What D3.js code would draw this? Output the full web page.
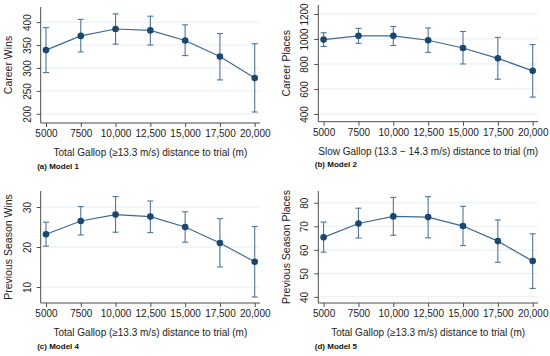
<!DOCTYPE html>
<html>
<head>
<meta charset="utf-8">
<script src="https://cdn.jsdelivr.net/npm/d3@7"></script>
<style>
  body { margin: 0; background: #fff; }
  svg { display: block; font-family: "Liberation Sans", Arial, sans-serif; }
</style>
</head>
<body>
<div class="canvas"></div>
<script>
// shared x categories (distance to trial, m)
const distances = [5000, 7500, 10000, 12500, 15000, 17500, 20000]
const xTickLabels = ["5000", "7500", "10,000", "12,500", "15,000", "17,500", "20,000"]

// (a) Model 1 - Career Wins
const winsEst = [339, 370, 385, 382, 360, 325, 278]
const winsLo = [290, 335, 352, 350, 327, 274, 204]
const winsHi = [388, 406, 418, 413, 394, 375, 353]
const winsTicks = [200, 250, 300, 350, 400]

// (b) Model 2 - Career Places
const placesEst = [995, 1025, 1025, 990, 928, 845, 745]
const placesLo = [940, 965, 948, 893, 800, 678, 535]
const placesHi = [1050, 1085, 1100, 1088, 1060, 1013, 955]
const placesTicks = [400, 600, 800, 1000, 1200]

// (c) Model 4 - Previous Season Wins
const seasonWinsEst = [23.2, 26.5, 28.1, 27.6, 25.0, 21.0, 16.3]
const seasonWinsLo = [20.2, 23.0, 23.7, 23.6, 21.2, 15.0, 7.5]
const seasonWinsHi = [26.2, 30.1, 32.6, 31.5, 28.8, 27.1, 25.1]
const seasonWinsTicks = [10, 20, 30]

// (d) Model 5 - Previous Season Places
const seasonPlacesEst = [65.3, 71.2, 74.2, 73.9, 70.1, 63.7, 55.2]
const seasonPlacesLo = [59.0, 65.0, 66.2, 65.1, 61.8, 54.7, 43.6]
const seasonPlacesHi = [71.8, 77.7, 82.3, 82.6, 78.5, 72.7, 66.8]
const seasonPlacesTicks = [40, 50, 60, 70, 80]

const panels = [
  { est: winsEst, lo: winsLo, hi: winsHi, ticks: winsTicks, domain: [180, 433],
    yTitle: "Career Wins", xTitle: "Total Gallop (\u226513.3 m/s) distance to trial (m)",
    caption: "(a) Model 1", left: 40.7, right: 260, top: 7, bottom: 123, ox: 0, oy: 0 },
  { est: placesEst, lo: placesLo, hi: placesHi, ticks: placesTicks, domain: [338, 1272],
    yTitle: "Career Places", xTitle: "Slow Gallop (13.3 \u2212 14.3 m/s) distance to trial (m)",
    caption: "(b) Model 2", left: 43.3, right: 263, top: 5, bottom: 121.7, ox: 275, oy: 0 },
  { est: seasonWinsEst, lo: seasonWinsLo, hi: seasonWinsHi, ticks: seasonWinsTicks, domain: [6, 34],
    yTitle: "Previous Season Wins", xTitle: "Total Gallop (\u226513.3 m/s) distance to trial (m)",
    caption: "(c) Model 4", left: 40.7, right: 260, top: 13, bottom: 125, ox: 0, oy: 178 },
  { est: seasonPlacesEst, lo: seasonPlacesLo, hi: seasonPlacesHi, ticks: seasonPlacesTicks, domain: [37.4, 85],
    yTitle: "Previous Season Places", xTitle: "Total Gallop (\u226513.3 m/s) distance to trial (m)",
    caption: "(d) Model 5", left: 43.3, right: 263, top: 13, bottom: 125, ox: 275, oy: 178 }
]

const svg = d3.select(".canvas").append("svg").attr("width", 550).attr("height", 356)

const lineCol = "#3d6a93"
const dotCol = "#1a476f"
const axisCol = "#4d4d4d"

panels.forEach(p => {
  const g = svg.append("g").attr("transform", `translate(${p.ox},${p.oy})`)
  const x = d3.scaleLinear().domain([4620, 20380]).range([p.left, p.right])
  const y = d3.scaleLinear().domain(p.domain).range([p.bottom, p.top])

  // gridlines
  g.selectAll(".grid").data(p.ticks).enter().append("line")
    .attr("x1", p.left).attr("x2", p.right)
    .attr("y1", d => y(d)).attr("y2", d => y(d))
    .attr("stroke", "#e6eef3").attr("stroke-width", 1)

  // y axis
  const yAxis = g.append("g").attr("transform", `translate(${p.left},0)`)
    .call(d3.axisLeft(y).tickValues(p.ticks).tickSize(4).tickPadding(3).tickFormat(d3.format("d")))
  yAxis.select(".domain").attr("stroke", axisCol).attr("d", `M0,${p.top}V${p.bottom}`)
  yAxis.selectAll(".tick line").attr("stroke", axisCol)
  yAxis.selectAll(".tick text")
    .attr("font-size", 10).attr("fill", "#222")
    .attr("transform", "rotate(-90)")
    .attr("x", 0).attr("y", -10).attr("dy", 0)
    .attr("text-anchor", "middle")

  // x axis
  const xAxis = g.append("g").attr("transform", `translate(0,${p.bottom})`)
    .call(d3.axisBottom(x).tickValues(distances).tickSize(4).tickPadding(3)
      .tickFormat((d, i) => xTickLabels[i]))
  xAxis.select(".domain").attr("stroke", axisCol).attr("d", `M${p.left},0H${p.right}`)
  xAxis.selectAll(".tick line").attr("stroke", axisCol)
  xAxis.selectAll(".tick text").attr("font-size", 10).attr("fill", "#222")

  // axis titles
  g.append("text")
    .attr("transform", `translate(${p.left - 32},${(p.top + p.bottom) / 2}) rotate(-90)`)
    .attr("text-anchor", "middle").attr("dy", "0.35em")
    .attr("font-size", 10.5).attr("fill", "#222").text(p.yTitle)
  g.append("text")
    .attr("x", (p.left + p.right) / 2).attr("y", p.bottom + 33)
    .attr("text-anchor", "middle")
    .attr("font-size", 10).attr("fill", "#222").text(p.xTitle)
  g.append("text")
    .attr("x", p.left - 3.5).attr("y", p.bottom + 45.5)
    .attr("font-size", 8).attr("font-weight", "bold").attr("fill", "#111").text(p.caption)

  // error bars
  const bars = g.append("g").attr("stroke", "#4f7599").attr("stroke-width", 1.1)
  distances.forEach((d, i) => {
    bars.append("line").attr("x1", x(d)).attr("x2", x(d)).attr("y1", y(p.lo[i])).attr("y2", y(p.hi[i]))
    bars.append("line").attr("x1", x(d) - 3).attr("x2", x(d) + 3).attr("y1", y(p.lo[i])).attr("y2", y(p.lo[i]))
    bars.append("line").attr("x1", x(d) - 3).attr("x2", x(d) + 3).attr("y1", y(p.hi[i])).attr("y2", y(p.hi[i]))
  })

  // connecting line
  const line = d3.line().x((d, i) => x(distances[i])).y(d => y(d))
  g.append("path").datum(p.est).attr("d", line)
    .attr("fill", "none").attr("stroke", lineCol).attr("stroke-width", 1.2)

  // markers
  g.selectAll(".dot").data(p.est).enter().append("circle")
    .attr("cx", (d, i) => x(distances[i])).attr("cy", d => y(d))
    .attr("r", 3.3).attr("fill", dotCol)
})
</script>
</body>
</html>
